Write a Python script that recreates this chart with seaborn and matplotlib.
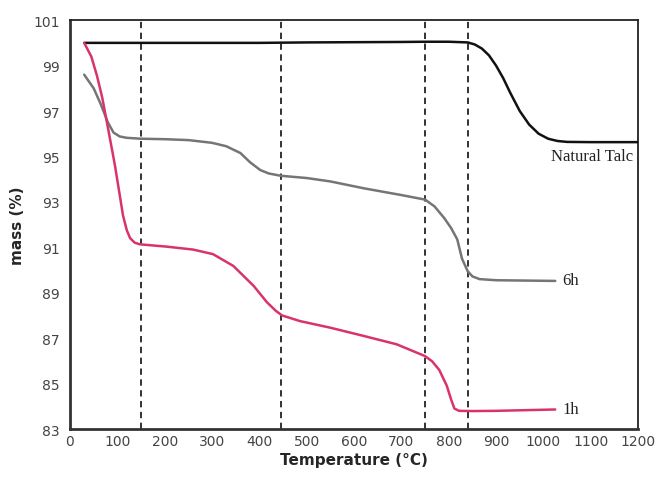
import pandas as pd
import matplotlib
matplotlib.use("Agg")
import matplotlib.pyplot as plt
import seaborn as sns

# Natural talc
talc_temp = [30, 100, 200, 300, 400, 500, 600, 700, 750, 800, 840, 855, 870, 885, 900, 915, 930, 950, 970, 990, 1010, 1030, 1050, 1100, 1200]
talc_mass = [100.0, 100.0, 100.0, 100.0, 100.0, 100.02, 100.03, 100.04, 100.05, 100.05, 100.02, 99.93, 99.75, 99.45, 99.0, 98.45, 97.8, 97.0, 96.4, 96.0, 95.78, 95.68, 95.64, 95.63, 95.63]

# 6h milled
h6_temp = [30, 50, 65, 80, 92, 105, 120, 150, 200, 250, 300, 330, 360, 380, 402, 420, 445, 500, 550, 620, 700, 750, 770, 790, 805, 818, 828, 840, 850, 865, 900, 1025]
h6_mass = [98.6, 98.0, 97.3, 96.5, 96.05, 95.88, 95.82, 95.78, 95.76, 95.72, 95.6, 95.45, 95.15, 94.75, 94.4, 94.25, 94.15, 94.05, 93.9, 93.6, 93.3, 93.1, 92.8, 92.3, 91.85, 91.35, 90.5, 89.95, 89.72, 89.6, 89.55, 89.52]

# 1h milled
h1_temp = [30, 45, 57, 68, 78, 95, 112, 120, 127, 137, 148, 204, 260, 302, 345, 388, 416, 435, 448, 486, 550, 620, 690, 750, 765, 780, 796, 805, 812, 822, 850, 900, 1025]
h1_mass = [100.0, 99.4, 98.55, 97.6, 96.5, 94.6, 92.4, 91.75, 91.4, 91.2, 91.13, 91.03, 90.9, 90.7, 90.18, 89.3, 88.58, 88.2, 88.0, 87.75, 87.46, 87.1, 86.73, 86.21, 85.98, 85.6, 84.9, 84.3, 83.9, 83.8, 83.79, 83.8, 83.86]

dash_temps = [150, 445, 750, 840]
x_ticks = list(range(0, 1201, 100))
y_ticks = list(range(83, 102, 2))

sns.set_theme(style="white")
plt.rcParams['font.family'] = ['DejaVu Sans']

fig = plt.figure(figsize=(6.56, 4.81), dpi=100)
ax = fig.add_axes([0.1067, 0.106, 0.866, 0.850])

for t in dash_temps:
    ax.axvline(t, color="#222222", lw=1.3, ls=(0, (3.5, 2.5)), zorder=1)

sns.lineplot(x=talc_temp, y=talc_mass, color="#111111", lw=1.8, ax=ax, zorder=3)
sns.lineplot(x=h6_temp, y=h6_mass, color="#757575", lw=1.8, ax=ax, zorder=3)
sns.lineplot(x=h1_temp, y=h1_mass, color="#d9336b", lw=1.8, ax=ax, zorder=3)

ax.set_xlim(0, 1200)
ax.set_ylim(83, 101)
ax.set_xticks(x_ticks)
ax.set_yticks(y_ticks)
ax.tick_params(axis="both", labelsize=10, labelcolor="#444444", colors="#444444")
ax.tick_params(axis="y", direction="out", length=4, width=1)
ax.tick_params(axis="x", direction="in", length=3, width=1)

for side in ["left", "bottom"]:
    ax.spines[side].set_linewidth(2.0)
    ax.spines[side].set_color("#333333")
for side in ["top", "right"]:
    ax.spines[side].set_linewidth(1.3)
    ax.spines[side].set_color("#222222")

ax.set_xlabel("Temperature (°C)", fontsize=11, fontweight="bold", labelpad=3)
ax.set_ylabel("mass (%)", fontsize=11, fontweight="bold", labelpad=6)

ax.text(1103, 95.0, "Natural Talc", family="Liberation Serif", fontsize=12,
        ha="center", va="center", color="#222222")
ax.text(1040, 89.55, "6h", family="Liberation Serif", fontsize=12,
        ha="left", va="center", color="#222222")
ax.text(1040, 83.9, "1h", family="Liberation Serif", fontsize=12,
        ha="left", va="center", color="#222222")

fig.savefig("out.png", dpi=100)
